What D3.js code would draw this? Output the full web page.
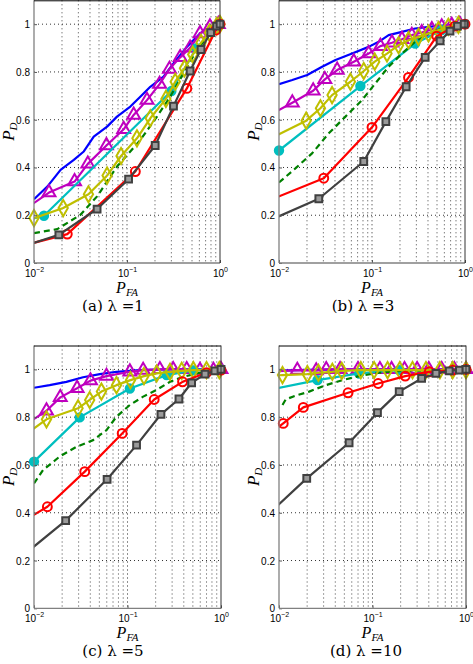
<!DOCTYPE html>
<html><head><meta charset="utf-8">
<script src="https://cdn.jsdelivr.net/npm/d3@7"></script>
<style>body{margin:0;background:#fff}svg{display:block}</style>
</head><body>
<svg id="c" width="473" height="664"></svg>
<script>
// ---- DATA (P_FA, P_D) per panel: [a, b, c, d] ----
const panelCaptions = ["(a) λ =1", "(b) λ =3", "(c) λ =5", "(d) λ =10"];
const xTickValues = [0.01, 0.1, 1];
const xTickExponents = ["−2", "−1", "0"];
const yTickValues = [0, 0.2, 0.4, 0.6, 0.8, 1];

const blueData = [
  [[0.01,0.267],[0.0139,0.32],[0.0193,0.39],[0.0268,0.432],[0.0343,0.467],[0.0439,0.529],[0.0611,0.571],[0.0781,0.613],[0.1086,0.655],[0.139,0.696],[0.178,0.738],[0.247,0.78],[0.316,0.836],[0.44,0.905],[0.61,0.961],[0.85,0.996],[1,1]],
  [[0.01,0.749],[0.0139,0.766],[0.0201,0.787],[0.0291,0.822],[0.0405,0.85],[0.0611,0.877],[0.092,0.905],[0.118,0.926],[0.151,0.954],[0.21,0.968],[0.291,0.982],[0.477,0.992],[1,1]],
  [[0.01,0.923],[0.0147,0.934],[0.0222,0.948],[0.0335,0.967],[0.0506,0.98],[0.0762,0.99],[0.135,0.997],[0.262,1],[1,1]],
  [[0.01,0.995],[0.02,0.998],[0.05,1],[1,1]]
];
const magentaData = [
  [[0.008,0.225],[0.0145,0.295],[0.0273,0.341],[0.0379,0.415],[0.0601,0.492],[0.0921,0.56],[0.118,0.62],[0.164,0.682],[0.224,0.749],[0.286,0.812],[0.373,0.861],[0.477,0.901],[0.61,0.961],[0.78,0.989],[0.96,1]],
  [[0.008,0.62],[0.0139,0.671],[0.0233,0.721],[0.0311,0.769],[0.0422,0.808],[0.0637,0.843],[0.092,0.877],[0.123,0.908],[0.164,0.922],[0.21,0.937],[0.268,0.954],[0.343,0.965],[0.44,0.978],[0.562,0.989],[0.72,0.996],[0.88,1]],
  [[0.0079,0.766],[0.0136,0.827],[0.0191,0.883],[0.0289,0.921],[0.0402,0.953],[0.0596,0.972],[0.106,0.99],[0.147,0.997],[0.222,1],[0.308,1],[0.43,1],[0.596,0.997],[0.83,0.997],[1,1]],
  [[0.008,0.99],[0.0157,0.997],[0.025,0.995],[0.032,1],[0.045,1],[0.07,1],[0.12,1],[0.16,1],[0.22,1],[0.3,1],[0.4,1],[0.55,1],[0.75,1],[1,1]]
];
const cyanData = [
  [[0.0095,0.185],[0.0128,0.198],[0.3,0.72],[0.56,0.9],[1,1]],
  [[0.01,0.471],[0.075,0.741],[0.291,0.919],[0.56,0.975],[1,1]],
  [[0.01,0.614],[0.0308,0.799],[0.106,0.92],[0.262,0.976],[0.506,0.996],[1,1]],
  [[0.008,0.915],[0.0258,0.955],[0.072,0.983],[0.193,0.997],[1,0.997]]
];
const greenData = [
  [[0.01,0.125],[0.0178,0.142],[0.0316,0.202],[0.0477,0.279],[0.0781,0.404],[0.139,0.515],[0.21,0.613],[0.291,0.696],[0.405,0.794],[0.562,0.891],[0.78,0.961],[1,1]],
  [[0.01,0.337],[0.0151,0.397],[0.0228,0.46],[0.0343,0.543],[0.0518,0.613],[0.0781,0.682],[0.1086,0.752],[0.151,0.822],[0.21,0.877],[0.291,0.926],[0.405,0.961],[0.562,0.982],[1,1]],
  [[0.01,0.523],[0.0125,0.579],[0.0188,0.635],[0.0285,0.676],[0.0429,0.704],[0.0596,0.746],[0.0762,0.802],[0.106,0.851],[0.147,0.886],[0.205,0.914],[0.285,0.948],[0.394,0.969],[0.596,0.986],[1,0.997]],
  [[0.0109,0.851],[0.0118,0.874],[0.0145,0.888],[0.021,0.907],[0.0316,0.934],[0.0477,0.955],[0.072,0.972],[0.118,0.986],[0.21,0.994],[1,0.997]]
];
const yellowData = [
  [[0.01,0.188],[0.0206,0.23],[0.0385,0.288],[0.0611,0.366],[0.0863,0.448],[0.128,0.522],[0.178,0.606],[0.262,0.687],[0.33,0.759],[0.415,0.815],[0.509,0.873],[0.625,0.922],[0.769,0.964],[0.92,0.992],[1,1]],
  [[0.008,0.52],[0.0196,0.596],[0.0279,0.648],[0.0372,0.703],[0.0586,0.759],[0.0815,0.804],[0.107,0.843],[0.145,0.877],[0.193,0.912],[0.247,0.933],[0.316,0.947],[0.405,0.961],[0.518,0.975],[0.662,0.989],[0.85,0.997]],
  [[0.0079,0.724],[0.0136,0.791],[0.0296,0.837],[0.0394,0.872],[0.0526,0.907],[0.0762,0.934],[0.1076,0.955],[0.15,0.972],[0.205,0.983],[0.285,0.99],[0.38,0.994],[0.506,0.997],[0.7,0.997],[0.96,0.997]],
  [[0.008,0.974],[0.0109,0.976],[0.0201,0.98],[0.0264,0.986],[0.0372,0.99],[0.0469,0.994],[0.075,0.997],[0.104,0.997],[0.145,0.997],[0.196,0.997],[0.268,0.997],[0.373,0.997],[0.526,0.997],[0.72,0.997],[1,0.997]]
];
const redData = [
  [[0.008,0.075],[0.0228,0.121],[0.123,0.383],[0.44,0.731],[0.9,0.975],[1,1]],
  [[0.0063,0.247],[0.0303,0.355],[0.1,0.568],[0.247,0.777],[0.497,0.95],[0.78,0.992],[1,1]],
  [[0.0079,0.367],[0.0139,0.425],[0.0349,0.572],[0.0877,0.732],[0.193,0.874],[0.388,0.948],[0.7,0.986],[1,0.997]],
  [[0.0079,0.729],[0.0111,0.774],[0.0182,0.841],[0.0548,0.902],[0.115,0.941],[0.224,0.972],[0.405,0.99],[0.72,0.997],[1,1]]
];
const grayData = [
  [[0.0079,0.071],[0.0185,0.118],[0.0477,0.226],[0.104,0.351],[0.201,0.492],[0.316,0.657],[0.477,0.804],[0.625,0.894],[0.794,0.965],[0.92,0.992],[1,1]],
  [[0.0063,0.161],[0.0268,0.269],[0.0815,0.425],[0.141,0.592],[0.233,0.738],[0.373,0.861],[0.54,0.93],[0.69,0.971],[0.83,0.992],[0.98,1]],
  [[0.0079,0.226],[0.0218,0.367],[0.0605,0.54],[0.125,0.683],[0.228,0.812],[0.355,0.876],[0.485,0.944],[0.675,0.98],[0.86,0.994],[1,1]],
  [[0.0079,0.398],[0.0198,0.544],[0.0562,0.693],[0.113,0.819],[0.193,0.907],[0.335,0.962],[0.477,0.983],[0.662,0.994],[0.85,0.997],[1,1]]
];

// ---- series styling ----
const series = [
  {data: blueData,    color: "#0000ff", marker: null},
  {data: magentaData, color: "#bf00bf", marker: "triangle"},
  {data: cyanData,    color: "#00bfbf", marker: "dot"},
  {data: greenData,   color: "#008000", marker: null, dash: "6,4"},
  {data: yellowData,  color: "#bfbf00", marker: "diamond"},
  {data: redData,     color: "#ff0000", marker: "circle"},
  {data: grayData,    color: "#404040", marker: "square"}
];

const panels = [
  {left: 34,  top: 0.3, w: 186, h: 262.7, capX: 113, capY: 311},
  {left: 279, top: 0.3, w: 186, h: 262.7, capX: 363, capY: 311},
  {left: 34,  top: 345.5, w: 187, h: 262.8, capX: 113, capY: 656},
  {left: 279, top: 345.5, w: 187, h: 262.8, capX: 366, capY: 656}
];

const svg = d3.select("#c");
const minorX = [];
[0.01, 0.1].forEach(d => { for (let k = 2; k <= 9; k++) minorX.push(d * k); });

panels.forEach((p, pi) => {
  const g = svg.append("g").attr("transform", `translate(${p.left},${p.top})`);
  const x = d3.scaleLog().domain([0.01, 1]).range([0, p.w]);
  const y = d3.scaleLinear().domain([0, 1.1]).range([p.h, 0]);

  // grid
  g.append("g").selectAll("line").data(minorX.concat([0.1])).join("line")
    .attr("x1", d => x(d)).attr("x2", d => x(d)).attr("y1", 0).attr("y2", p.h)
    .attr("stroke", d => d === 0.1 ? "#222" : "#444").attr("stroke-width", 1)
    .attr("stroke-dasharray", "1,3");
  g.append("g").selectAll("line").data(yTickValues.slice(1)).join("line")
    .attr("x1", 0).attr("x2", p.w).attr("y1", d => y(d)).attr("y2", d => y(d))
    .attr("stroke", "#333").attr("stroke-width", 1).attr("stroke-dasharray", "1,3");

  // clip
  const cid = "clip" + pi;
  g.append("clipPath").attr("id", cid).append("rect")
    .attr("x", 0).attr("y", -2).attr("width", p.w).attr("height", p.h + 2);

  const line = d3.line().x(d => x(d[0])).y(d => y(d[1]));
  const sym = {
    triangle: d3.symbol().type(d3.symbolTriangle).size(72),
    diamond: d3.symbol().type(d3.symbolDiamond).size(75),
    circle: d3.symbol().type(d3.symbolCircle).size(62),
    dot: d3.symbol().type(d3.symbolCircle).size(55),
    square: d3.symbol().type(d3.symbolSquare).size(46)
  };

  series.forEach(s => {
    const pts = s.data[pi];
    g.append("path").datum(pts).attr("clip-path", `url(#${cid})`)
      .attr("d", line).attr("fill", "none").attr("stroke", s.color)
      .attr("stroke-width", 2.2).attr("stroke-linejoin", "round")
      .attr("stroke-dasharray", s.dash || null);
    if (s.marker) {
      g.append("g").selectAll("path").data(pts.filter(d => d[0] >= 0.0099)).join("path")
        .attr("transform", d => `translate(${x(d[0])},${y(d[1])})`)
        .attr("d", sym[s.marker])
        .attr("fill", s.marker === "dot" ? s.color : (s.marker === "square" ? "#9a9a9a" : "none"))
        .attr("stroke", s.color).attr("stroke-width", 2);
    }
  });

  // axes
  const yAxis = d3.axisLeft(y).tickValues(yTickValues).tickSize(-3)
    .tickFormat(d => d === 0 ? "0" : d === 1 ? "1" : d3.format(".1f")(d));
  const ya = g.append("g").call(yAxis);
  ya.select(".domain").remove();
  ya.selectAll("line").attr("stroke", "#555");
  ya.selectAll("text").attr("x", -4).attr("dy", "0.35em")
    .style("font-family", "'Liberation Sans', Arial, sans-serif").style("font-size", "10px").attr("fill", "#000");

  const xAxis = d3.axisBottom(x).tickValues(xTickValues).tickSize(-3).tickFormat("");
  const xa = g.append("g").attr("transform", `translate(0,${p.h})`).call(xAxis);
  xa.select(".domain").remove();
  xa.selectAll("line").attr("stroke", "#555");
  xa.selectAll(".tick").each(function(d, i) {
    const t = d3.select(this).append("text").attr("y", 13.5).attr("text-anchor", "middle")
      .style("font-family", "'Liberation Sans', Arial, sans-serif").style("font-size", "10px").attr("fill", "#000");
    t.append("tspan").text("10");
    t.append("tspan").attr("dy", -5).style("font-size", "7px").text(xTickExponents[i]);
  });

  // box
  g.append("line").attr("x1", 0).attr("x2", 0).attr("y1", 0).attr("y2", p.h).attr("stroke", "#808080").attr("stroke-width", 1.3);
  g.append("line").attr("x1", 0).attr("x2", p.w).attr("y1", p.h).attr("y2", p.h).attr("stroke", "#808080").attr("stroke-width", 1.3);
  g.append("line").attr("x1", 0).attr("x2", p.w).attr("y1", 0.5).attr("y2", 0.5).attr("stroke", "#000").attr("stroke-width", 1);
  g.append("line").attr("x1", p.w).attr("x2", p.w).attr("y1", 0).attr("y2", p.h).attr("stroke", "#333").attr("stroke-width", 1);

  // labels
  const serif = "'Liberation Serif', 'Times New Roman', serif";
  const xl = g.append("text").attr("x", p.w / 2).attr("y", p.h + 30).attr("text-anchor", "middle")
    .style("font-family", serif).style("font-style", "italic").style("font-size", "16px");
  xl.append("tspan").text("P");
  xl.append("tspan").attr("dy", 3).style("font-size", "11px").text("FA");
  const yl = g.append("text").attr("transform", `translate(${-20},${y(0.55)}) rotate(-90)`).attr("text-anchor", "middle")
    .style("font-family", serif).style("font-style", "italic").style("font-size", "17px");
  yl.append("tspan").text("P");
  yl.append("tspan").attr("dy", 3).style("font-size", "11px").text("D");

  svg.append("text").attr("x", p.capX).attr("y", p.capY).attr("text-anchor", "middle")
    .style("font-family", "'DejaVu Serif', serif").style("font-size", "15px").text(panelCaptions[pi]);
});
</script>
</body></html>
